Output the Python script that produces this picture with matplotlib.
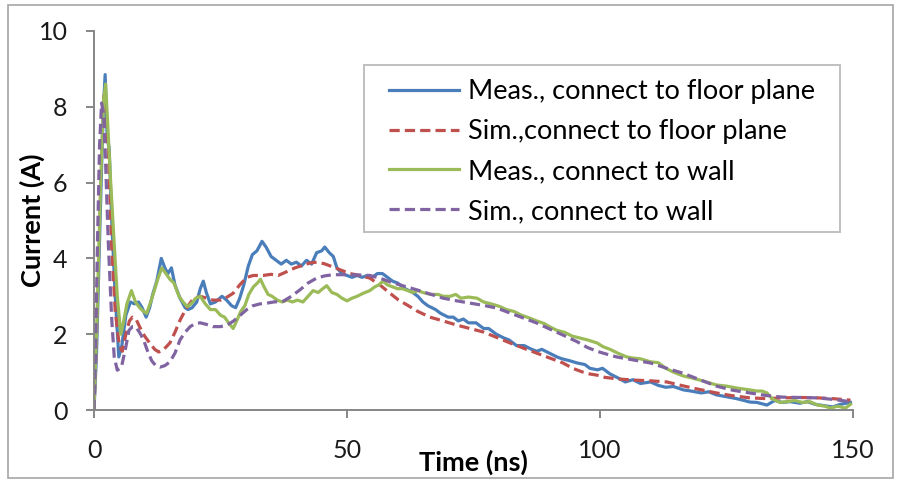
import matplotlib
matplotlib.use("Agg")
import matplotlib.pyplot as plt
from matplotlib.patches import Rectangle

# ---------------- data ----------------
t_meas_floor = [0, 0.5, 1.2, 1.8, 2.2, 2.6, 3.0, 3.5, 4.2, 4.9, 5.5, 6.3, 7.2, 8.0, 8.8, 9.5, 10.3, 11.0,
                11.6, 12.4, 13.3, 14.0, 14.6, 15.3, 16.0, 17.0, 18.0, 18.6, 19.4, 20.3, 21.0, 21.6, 22.2,
                23.0, 24.0, 25.3, 26.2, 27.2, 28.0, 28.8, 29.6, 30.5, 31.3, 32.2, 33.2, 34.0, 35.0, 36.0,
                37.0, 38.0, 39.0, 40.0, 41.0, 42.0, 43.0, 44.0, 45.0, 45.6, 46.5, 47.3, 48.0, 49.0, 50.0,
                51.0, 52.0, 53.0, 54.0, 55.0, 56.0, 57.0, 58.0, 59.0, 60.0, 61.5, 63.0, 64.0, 65.0, 66.0,
                67.5, 68.5, 70.0, 71.0, 72.0, 73.0, 74.0, 75.5, 77.0, 78.0, 79.5, 81.0, 82.0, 83.5, 85.0,
                86.5, 87.5, 88.5, 90.0, 91.5, 92.5, 94.0, 95.5, 97.0, 98.0, 99.5, 100.5, 102.0, 103.5,
                105.0, 106.5, 108.0, 110.0, 111.5, 113.0, 114.5, 116.5, 118.0, 120.0, 121.5, 123.0, 125.0,
                127.0, 128.5, 129.6, 131.0, 133.0, 134.5, 136.0, 137.5, 139.5, 141.0, 142.5, 144.0, 146.0,
                147.5, 149.5]
i_meas_floor = [0, 1.5, 5.0, 7.8, 8.85, 7.2, 6.9, 5.0, 3.0, 1.4, 1.7, 2.5, 2.85, 2.8, 2.85, 2.7, 2.45, 2.7,
                3.05, 3.4, 4.0, 3.75, 3.6, 3.75, 3.3, 2.95, 2.7, 2.65, 2.7, 2.85, 3.2, 3.4, 3.1,
                2.8, 2.85, 3.0, 2.9, 2.75, 2.7, 2.95, 3.3, 3.8, 4.1, 4.2, 4.45, 4.3, 4.05, 3.95,
                3.85, 3.95, 3.85, 3.9, 3.8, 3.95, 3.85, 4.15, 4.2, 4.3, 4.15, 4.05, 3.75, 3.6, 3.55,
                3.5, 3.55, 3.5, 3.55, 3.5, 3.6, 3.6, 3.5, 3.4, 3.35, 3.2, 3.1, 3.0, 2.85, 2.75,
                2.65, 2.55, 2.45, 2.45, 2.35, 2.4, 2.3, 2.3, 2.15, 2.15, 2.0, 1.9, 1.85, 1.7, 1.7,
                1.6, 1.55, 1.6, 1.5, 1.4, 1.35, 1.3, 1.24, 1.2, 1.1, 1.06, 1.1, 0.95, 0.85,
                0.74, 0.8, 0.7, 0.74, 0.65, 0.6, 0.62, 0.53, 0.5, 0.45, 0.48, 0.4, 0.35,
                0.3, 0.25, 0.21, 0.2, 0.13, 0.25, 0.2, 0.22, 0.18, 0.22, 0.15, 0.12, 0.08,
                0.15, 0.2]

t_sim_floor = [0, 0.5, 1.0, 1.5, 2.0, 2.5, 3.0, 3.5, 4.2, 5.0, 5.6, 6.3, 7.0, 7.6, 8.3, 9.0, 10.0, 11.0,
               12.0, 12.8, 13.8, 15.0, 16.0, 17.0, 18.3, 19.6, 21.0, 22.3, 23.5, 25.0, 26.3, 27.5, 28.8,
               30.2, 31.5, 33.4, 35.0, 36.4, 38.1, 39.7, 41.3, 42.7, 44.0, 45.5, 47.3, 49.0, 50.6, 52.5,
               54.5, 56.5, 58.5, 60.2, 61.9, 64.0, 66.4, 69.0, 71.7, 74.3, 76.9, 79.5, 82.2, 84.9, 87.5,
               90.1, 92.7, 94.6, 96.6, 98.0, 99.4, 101.0, 103.5, 106.5, 110.0, 113.2, 116.0, 119.0,
               123.0, 126.0, 129.6, 133.0, 136.0, 140.0, 143.0, 146.0, 149.5]
i_sim_floor = [0, 2.0, 5.5, 7.5, 8.3, 7.8, 6.2, 4.3, 2.6, 1.7, 1.55, 2.0, 2.35, 2.45, 2.4, 2.2, 1.95, 1.77,
               1.6, 1.53, 1.6, 1.77, 2.05, 2.37, 2.7, 2.93, 3.0, 2.95, 2.9, 2.9, 2.98, 3.08, 3.3,
               3.5, 3.55, 3.55, 3.58, 3.55, 3.65, 3.75, 3.82, 3.88, 3.9, 3.86, 3.77, 3.68, 3.6, 3.55,
               3.48, 3.3, 3.08, 2.9, 2.77, 2.6, 2.45, 2.35, 2.24, 2.15, 2.06, 1.92, 1.77, 1.63, 1.5,
               1.37, 1.24, 1.1, 1.0, 0.95, 0.92, 0.86, 0.82, 0.79, 0.77, 0.74, 0.65, 0.56,
               0.45, 0.38, 0.32, 0.3, 0.32, 0.33, 0.32, 0.3, 0.26]

t_meas_wall = [0, 0.6, 1.3, 1.9, 2.3, 2.8, 3.3, 3.9, 4.6, 5.3, 5.8, 6.5, 7.4, 8.2, 9.0, 9.8, 10.4, 11.2,
               11.8, 12.6, 13.4, 14.2, 15.0, 15.8, 16.8, 17.6, 18.4, 19.2, 20.1, 21.0, 22.0, 23.0, 24.0,
               25.0, 25.8, 26.6, 27.5, 28.2, 29.0, 29.8, 30.6, 31.5, 32.3, 32.9, 33.6, 34.4, 35.2, 36.2,
               37.2, 38.2, 39.2, 40.2, 41.3, 42.3, 43.3, 44.3, 45.2, 46.0, 47.0, 48.0, 49.0, 50.0, 51.0,
               52.0, 53.2, 54.5, 55.5, 56.3, 57.1, 58.0, 59.0, 60.0, 61.0, 62.0, 63.0, 64.0, 65.0, 66.5,
               68.0, 69.0, 70.4, 71.5, 72.5, 74.0, 75.7, 77.0, 78.5, 80.2, 81.5, 83.0, 84.5, 86.0, 87.5,
               89.0, 90.0, 91.5, 93.0, 94.5, 96.0, 97.5, 99.4, 100.6, 102.0, 103.5, 105.3, 106.5, 108.0,
               110.0, 111.5, 113.0, 114.5, 116.4, 118.0, 120.0, 121.5, 123.0, 125.0, 127.0, 129.6, 131.0,
               132.0, 133.0, 134.0, 135.5, 137.0, 138.5, 140.0, 141.5, 143.0, 144.5, 145.5, 147.0, 148.5,
               149.5]
i_meas_wall = [0, 2.5, 6.0, 8.2, 8.6, 7.3, 6.0, 4.6, 3.0, 2.0, 2.3, 2.8, 3.15, 2.85, 2.7, 2.6, 2.55, 2.85,
               3.1, 3.45, 3.75, 3.6, 3.45, 3.35, 3.0, 2.85, 2.73, 2.8, 2.95, 3.0, 2.8, 2.65, 2.65,
               2.5, 2.45, 2.3, 2.15, 2.35, 2.6, 2.75, 3.05, 3.25, 3.35, 3.45, 3.25, 3.05, 3.0, 2.9,
               2.85, 2.9, 2.85, 2.9, 2.85, 3.0, 3.15, 3.1, 3.2, 3.28, 3.1, 3.05, 2.95, 2.88, 2.95,
               3.0, 3.08, 3.15, 3.25, 3.3, 3.4, 3.3, 3.25, 3.2, 3.2, 3.15, 3.1, 3.15, 3.1, 3.05,
               3.05, 3.0, 3.0, 3.05, 2.95, 2.98, 2.95, 2.85, 2.8, 2.73, 2.65, 2.6, 2.5, 2.43, 2.35,
               2.28, 2.2, 2.1, 2.05, 1.95, 1.9, 1.85, 1.77, 1.67, 1.6, 1.5, 1.4, 1.37, 1.35,
               1.27, 1.25, 1.1, 1.0, 0.9, 0.85, 0.78, 0.72, 0.66, 0.63, 0.58, 0.53, 0.5,
               0.5, 0.45, 0.3, 0.2, 0.22, 0.25, 0.2, 0.22, 0.13, 0.1, 0.05, 0.1, 0.05,
               0.15]

t_sim_wall = [0, 0.3, 0.7, 1.1, 1.5, 1.9, 2.3, 2.8, 3.5, 4.0, 4.6, 5.4, 6.2, 6.9, 7.6, 8.2, 9.0, 9.8,
              10.6, 11.4, 12.2, 13.0, 14.0, 15.0, 16.0, 17.0, 18.0, 19.0, 20.0, 21.0, 22.2, 23.5, 25.0,
              26.3, 27.6, 28.9, 30.2, 31.4, 32.8, 34.2, 35.5, 37.4, 39.0, 40.7, 42.3, 44.0, 45.6, 47.3,
              49.0, 50.6, 52.5, 54.5, 56.5, 58.5, 61.0, 63.8, 66.4, 69.0, 71.7, 74.3, 77.0, 79.6, 82.2,
              84.8, 87.4, 90.0, 92.8, 95.5, 97.5, 99.4, 101.4, 103.3, 106.6, 110.0, 113.2, 116.4, 119.7,
              123.0, 126.3, 129.6, 133.0, 136.0, 139.5, 143.0, 146.0, 149.5]
i_sim_wall = [0, 1.5, 4.5, 7.0, 8.1, 7.8, 6.5, 4.5, 2.4, 1.4, 1.05, 1.12, 1.6, 2.1, 2.2, 2.2, 2.05, 1.85,
              1.55, 1.3, 1.17, 1.13, 1.17, 1.27, 1.5, 1.85, 2.05, 2.2, 2.28, 2.3, 2.26, 2.2, 2.2,
              2.24, 2.35, 2.5, 2.65, 2.75, 2.8, 2.82, 2.85, 2.87, 3.0, 3.17, 3.35, 3.48, 3.54, 3.57,
              3.57, 3.57, 3.56, 3.55, 3.48, 3.38, 3.28, 3.17, 3.06, 2.95, 2.88, 2.82, 2.76, 2.69, 2.56,
              2.43, 2.3, 2.14, 1.97, 1.8, 1.65, 1.55, 1.47, 1.4, 1.32, 1.24, 1.1, 0.97, 0.8,
              0.63, 0.52, 0.45, 0.38, 0.34, 0.33, 0.32, 0.28, 0.22]

labels = ["Meas., connect to floor plane", "Sim.,connect to floor plane",
          "Meas., connect to wall", "Sim., connect to wall"]
x_ticks = [0, 50, 100, 150]
y_ticks = [0, 2, 4, 6, 8, 10]

# ---------------- style ----------------
FONT = ["Lato", "DejaVu Sans"]
plt.rcParams["font.family"] = FONT
axis_gray = "#868686"
c_blue, c_red, c_green, c_purple = "#4A7EBB", "#C0504D", "#9BBB59", "#8064A2"

fig = plt.figure(figsize=(9.01, 4.80), dpi=100)
ax = fig.add_axes([94 / 901, 70 / 480, 759 / 901, 379 / 480])

lw = 2.3
dash = (3.2, 1.6)
ax.plot(t_meas_floor, i_meas_floor, color=c_blue, lw=lw, label=labels[0], solid_joinstyle="round")
ax.plot(t_sim_floor, i_sim_floor, color=c_red, lw=lw, dashes=dash, label=labels[1])
ax.plot(t_meas_wall, i_meas_wall, color=c_green, lw=lw, label=labels[2], solid_joinstyle="round")
ax.plot(t_sim_wall, i_sim_wall, color=c_purple, lw=lw, dashes=dash, label=labels[3])

ax.set_xlim(0, 150)
ax.set_ylim(0, 10)
ax.set_xticks(x_ticks)
ax.set_yticks(y_ticks)
for s in ["top", "right"]:
    ax.spines[s].set_visible(False)
for s in ["left", "bottom"]:
    ax.spines[s].set_color(axis_gray)
    ax.spines[s].set_linewidth(1.4)
ax.tick_params(axis="both", direction="out", length=6, width=1.4, color=axis_gray,
               labelsize=18, labelcolor="#1a1a1a")
ax.tick_params(axis="y", pad=13)
ax.tick_params(axis="x", pad=15)

ax.set_xlabel("Time (ns)", fontsize=19.5, fontweight="bold")
ax.xaxis.set_label_coords(0.5, -0.137)
ax.xaxis.label.set_va("center")
ax.set_ylabel("Current (A)", fontsize=19.5, fontweight="bold")
ax.yaxis.set_label_coords(-0.0817, 0.5)
ax.yaxis.label.set_va("center")

# legend frame (box) and legend entries
ax.add_patch(Rectangle((0.3557, 0.4697), 0.6271, 0.4406, transform=ax.transAxes,
                       facecolor="white", edgecolor="#BFBFBF", linewidth=1.4, zorder=5,
                       clip_on=False))
leg = ax.legend(loc="upper left", bbox_to_anchor=(0.3887, 0.873), fontsize=19.5,
                handlelength=2.6, handletextpad=0.3, labelspacing=0.55,
                borderpad=0, borderaxespad=0, frameon=False)
leg.set_zorder(6)

# outer chart border
fig.patches.append(Rectangle((8 / 901, 2 / 480), 885 / 901, 473 / 480, transform=fig.transFigure,
                             fill=False, edgecolor="#A6A6A6", linewidth=1.2))

fig.savefig("out.png", dpi=100)
